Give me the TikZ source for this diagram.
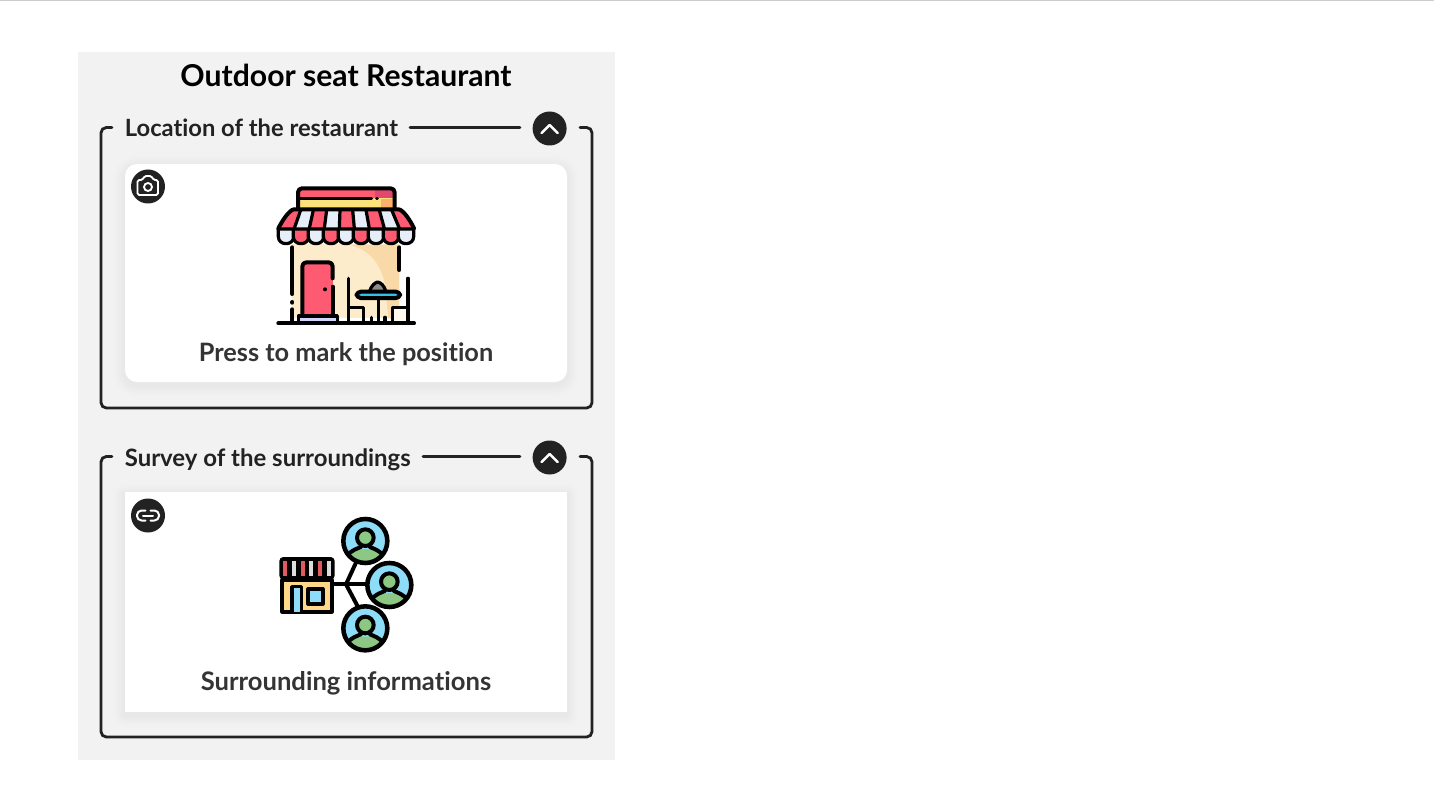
\documentclass[tikz,border=0pt]{standalone}
\usepackage{fontspec}
\setmainfont[Ligatures=NoCommon]{Lato}
\usetikzlibrary{calc}
\definecolor{ink}{HTML}{222222}
\definecolor{panelc}{HTML}{F2F2F2}
\definecolor{redc}{HTML}{FE5A72}
\definecolor{redd}{HTML}{E0486E}
\definecolor{yel}{HTML}{FBE27B}
\definecolor{orgc}{HTML}{FDB06B}
\definecolor{pale}{HTML}{E6EEF8}
\definecolor{creamc}{HTML}{FDECCB}
\definecolor{creamd}{HTML}{FAD9A8}
\definecolor{cyanc}{HTML}{2FC0EE}
\definecolor{skyc}{HTML}{8DDCF8}
\definecolor{greenc}{HTML}{8CC883}
\definecolor{stripe}{HTML}{E05A60}
\definecolor{grayst}{HTML}{DDDDDD}
\definecolor{shopc}{HTML}{FDD888}
\tikzset{
  px/.style={x=0.75pt,y=-0.75pt},
  zoomed/.style={x=0.25pt,y=-0.25pt},
  framel/.style={draw=ink,line width=2.1pt,line cap=round,rounded corners=4pt},
  sectxt/.style={anchor=base west,inner sep=0pt,text=ink,font=\fontsize{17.8}{20}\selectfont\bfseries},
  cardtxt/.style={anchor=base,inner sep=0pt,text=ink!92,font=\fontsize{19}{22}\selectfont\bfseries},
  badge/.style={circle,fill=ink,draw=none,minimum size=25.5pt,inner sep=0pt},
  iconl/.style={draw=white,line width=1.9pt,line cap=round,line join=round},
  blk/.style={draw=black,line width=2.4pt,line cap=round,line join=round},
  blkb/.style={draw=black,line width=3pt,line cap=round,line join=round},
}
\newcommand{\softshadow}[5]{%
  \foreach \e/\o in {12/0.004,10/0.005,8/0.006,6/0.007,4/0.008,2/0.009}{
    \fill[black,opacity=\o,rounded corners=#5+\e*0.75pt] ($(#1,#2)+(-\e,-\e+3)$) rectangle ($(#3,#4)+(\e,\e+3)$);
  }}
\newcommand{\person}[2]{%
  \begin{scope}
    \clip (#1,#2) circle (64);
    \fill[skyc] (#1,#2) circle (64);
    \fill[greenc] ($(#1,#2)+(-50,66)$) -- ($(#1,#2)+(-50,38)$) .. controls ($(#1,#2)+(-36,20)$) and ($(#1,#2)+(36,20)$) .. ($(#1,#2)+(50,38)$) -- ($(#1,#2)+(50,66)$) -- cycle;
    \draw[blkb] ($(#1,#2)+(-54,44)$) .. controls ($(#1,#2)+(-40,26)$) and ($(#1,#2)+(-26,24)$) .. ($(#1,#2)+(-14,18)$);
    \draw[blkb] ($(#1,#2)+(54,44)$) .. controls ($(#1,#2)+(40,26)$) and ($(#1,#2)+(26,24)$) .. ($(#1,#2)+(14,18)$);
  \end{scope}
  \draw[blkb,fill=greenc] ($(#1,#2)+(0,-10)$) circle (25);
  \draw[blkb,line width=3.4pt] (#1,#2) circle (66);
}
\begin{document}
\begin{tikzpicture}[px]
\useasboundingbox (0,0) rectangle (1434,802);
\fill[white] (0,0) rectangle (1434,802);
\fill[black!20] (0,0) rectangle (1434,1.4);
\fill[panelc] (78,52) rectangle (615,760);

\node[anchor=base,inner sep=0pt,text=black,font=\fontsize{22.6}{26}\selectfont\bfseries] (title) at (346,87) {Outdoor seat Restaurant};

% Section 1
\coordinate (fa1) at (112,127.5);
\coordinate (fa2) at (580,127.5);
\draw[framel] (fa1) -- (101,127.5) -- (101,408) -- (592,408) -- (592,127.5) -- (fa2);
\node[sectxt] (sec1) at (124.6,137) {Location of the restaurant};
\coordinate (la1) at (410,127.5);
\coordinate (la2) at (520,127.5);
\draw[framel] (la1) -- (la2);
\node[badge] (up1) at (549.6,128.5) {};
\draw[iconl] (541.6,133) -- (549.6,125) -- (557.6,133);
\softshadow{125}{164}{567}{382}{9pt}
\fill[white,rounded corners=9pt] (125,164) rectangle (567,382);
\node[cardtxt] (cap1) at (346,361) {Press to mark the position};
\node[badge] (cam) at (148,186.5) {};
\draw[iconl,rounded corners=1.2pt,line width=1.4pt] (137.5,180) -- (142.5,180) -- (144.5,176) -- (151.5,176) -- (153.5,180) -- (158,180) -- (158,195) -- (137.5,195) -- cycle;
\draw[iconl,line width=1.4pt] (148,187) circle (4);

% Store icon
\begin{scope}[shift={(260,170)},zoomed]
  % walls
  \fill[creamc] (97,222) rectangle (418,445);
  \fill[creamd] (270,225) .. controls (330,240) and (365,285) .. (375,345) -- (385,445) -- (418,445) -- (418,225) -- cycle;
  % sign
  \fill[redc] (114,55) rectangle (404,85);
  \fill[redd] (345,55) rectangle (404,85);
  \fill[yel] (114,85) rectangle (404,115);
  \fill[orgc] (362,88) rectangle (404,115);
  \draw[blkb,rounded corners=3pt] (114,118) -- (114,55) -- (404,55) -- (404,118);
  \draw[blk] (114,85) -- (335,85);
  \draw[blk] (350,85) -- (352,85);
  % awning stripes
  \fill[redc] (100,120) -- (122,120) -- (103,175) -- (57,175) -- cycle;
  \fill[pale] (122,120) -- (160,120) -- (148,175) -- (103,175) -- cycle;
  \fill[redc] (160,120) -- (200,120) -- (193,175) -- (148,175) -- cycle;
  \fill[pale] (200,120) -- (240,120) -- (238,175) -- (193,175) -- cycle;
  \fill[redc] (240,120) -- (278,120) -- (283,175) -- (238,175) -- cycle;
  \fill[pale] (278,120) -- (318,120) -- (328,175) -- (283,175) -- cycle;
  \fill[redc] (318,120) -- (358,120) -- (373,175) -- (328,175) -- cycle;
  \fill[pale] (358,120) -- (395,120) -- (418,175) -- (373,175) -- cycle;
  \fill[redc] (395,120) -- (418,120) -- (462,175) -- (418,175) -- cycle;
  \draw[blkb] (55,175) .. controls (68,150) and (88,120) .. (102,118) -- (416,118) .. controls (430,120) and (450,150) .. (462,175);
  \foreach \xa/\xb in {122/103,160/148,200/193,240/238,278/283,318/328,358/373,395/418}{
    \draw[blk] (\xa,120) -- (\xb,175);
  }
  % scallops
  \foreach \xs/\col in {55/pale,100/redc,145/pale,190/redc,235/pale,280/redc,325/pale,370/redc,415/pale}{
    \draw[blk,fill=\col] (\xs,177) -- (\xs,200) .. controls (\xs,228) and (\xs+46,228) .. (\xs+46,200) -- (\xs+46,177) -- cycle;
  }
  % wall lines
  \draw[blkb] (97,232) -- (97,372);
  \draw[blkb] (97,396) -- (97,398);
  \draw[blkb] (97,418) -- (97,452);
  \draw[blkb] (418,232) -- (418,300);
  % door
  \fill[redc] (127,277) rectangle (218,435);
  \draw[blkb,rounded corners=3pt] (127,438) -- (127,277) -- (218,277) -- (218,325);
  \draw[blkb] (218,350) -- (218,438);
  \fill[black] (195,358) circle (6);
  \fill[pale!75!blue!55!white] (115,440) rectangle (232,455);
  \draw[blk] (115,455) -- (115,438) -- (232,438) -- (232,455);
  % chairs
  \fill[white!70!creamc] (400,412) rectangle (444,455);
  \draw[blk] (266,325) -- (266,455);
  \draw[blk] (266,412) -- (310,412) -- (310,455);
  \draw[blk] (444,325) -- (444,455);
  \draw[blk] (444,412) -- (398,412) -- (398,455);
  % table
  \draw[blk,fill=black!45] (328,365) .. controls (335,345) and (345,338) .. (353,336) .. controls (362,338) and (372,345) .. (378,365);
  \draw[blkb,fill=cyanc,rounded corners=3pt] (290,365) rectangle (420,384);
  \draw[blk] (355,385) -- (355,455);
  \draw[blk] (335,442) -- (335,455);
  \draw[blk] (375,442) -- (375,455);
  % ground
  \draw[blkb] (55,460) -- (462,460);
\end{scope}

% Section 2
\coordinate (fb1) at (112,456.5);
\coordinate (fb2) at (580,456.5);
\draw[framel] (fb1) -- (101,456.5) -- (101,737) -- (592,737) -- (592,456.5) -- (fb2);
\node[sectxt,font=\fontsize{17.95}{20}\selectfont\bfseries] (sec2) at (124.6,466) {Survey of the surroundings};
\coordinate (lb1) at (423,456.5);
\coordinate (lb2) at (520,456.5);
\draw[framel] (lb1) -- (lb2);
\node[badge] (up2) at (549.6,457.5) {};
\draw[iconl] (541.6,462) -- (549.6,454) -- (557.6,462);
\softshadow{125}{492}{567}{712}{0pt}
\fill[white] (125,492) rectangle (567,712);
\node[cardtxt,font=\fontsize{19.2}{22}\selectfont\bfseries] (cap2) at (346,690) {Surrounding informations};
\node[badge] (lnk) at (148,515.5) {};
\draw[iconl,line width=1.5pt,rounded corners=3.4pt] (145.5,510.5) -- (137,510.5) -- (137,520.5) -- (145.5,520.5);
\draw[iconl,line width=1.5pt,rounded corners=3.4pt] (150.5,510.5) -- (159,510.5) -- (159,520.5) -- (150.5,520.5);
\draw[iconl,line width=1.5pt] (143,515.5) -- (153,515.5);

% Network icon
\begin{scope}[shift={(260,505)},zoomed]
  \draw[blkb] (215,238) -- (325,238);
  \draw[blkb] (258,238) -- (287,175);
  \draw[blkb] (258,238) -- (292,302);
  \person{316}{108}
  \person{388}{240}
  \person{316}{370}
  % shop
  \fill[black,rounded corners=3pt] (58,156) rectangle (224,224);
  \foreach \xs/\col in {70/stripe,96/grayst,122/stripe,148/grayst,174/stripe,200/grayst}{
    \fill[\col] (\xs,168) rectangle (\xs+12,214);
  }
  \draw[blkb,fill=shopc] (67,225) rectangle (215,320);
  \draw[blk,fill=skyc] (96,320) -- (96,245) -- (124,245) -- (124,320);
  \draw[blkb,fill=skyc] (145,252) rectangle (188,296);
\end{scope}
\end{tikzpicture}
\end{document}
